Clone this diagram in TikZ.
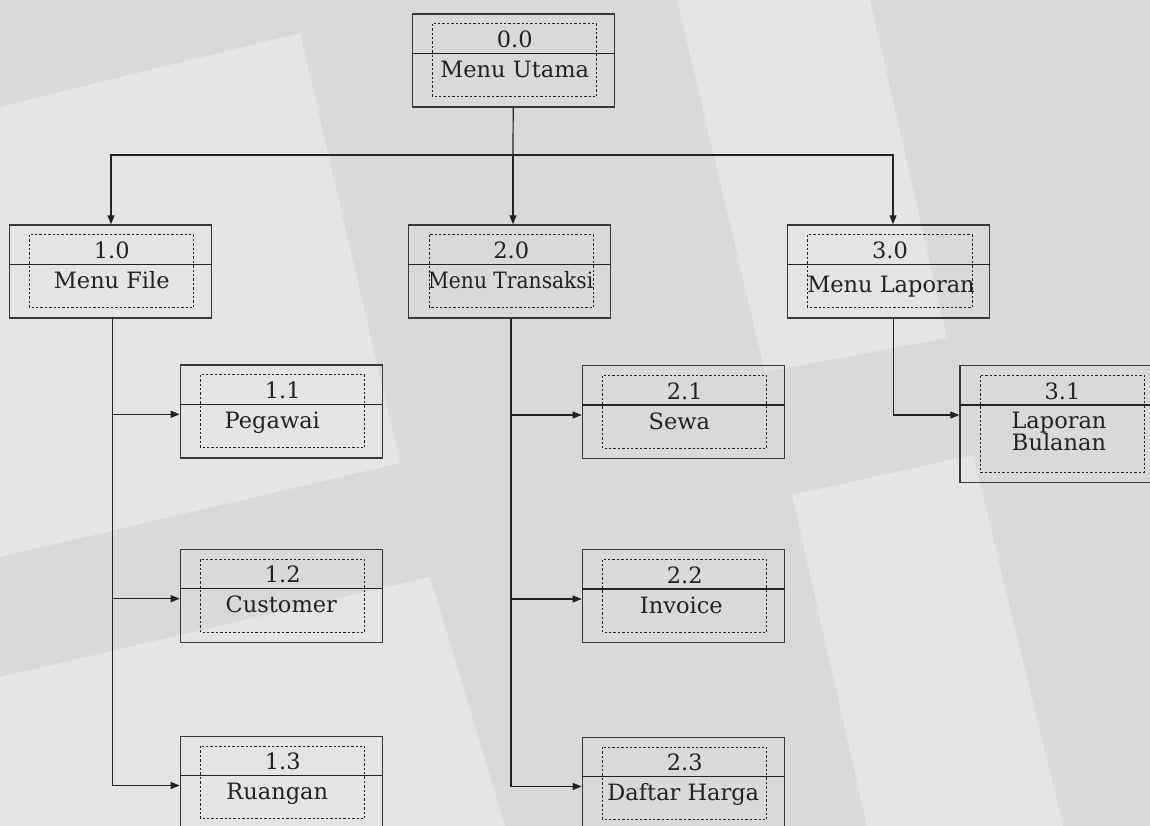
\documentclass[tikz,border=0pt]{standalone}
\usepackage{fontspec}
\setmainfont{DejaVu Serif}
\usetikzlibrary{arrows.meta,calc}
\definecolor{bgdark}{HTML}{D9D9D9}
\definecolor{bglight}{HTML}{E4E4E4}
\definecolor{ink}{HTML}{222222}
\definecolor{boxink}{HTML}{383838}
\tikzset{
  outerbox/.style={draw=boxink, line width=1.3pt, minimum width=202pt, inner sep=0pt, rectangle},
  boxline/.style={draw=ink, line width=1.2pt},
  dotbox/.style={draw=ink, line width=1pt, dash pattern=on 2.4pt off 2pt},
  txt/.style={font=\fontsize{22.5}{23}\selectfont, text=ink, inner sep=0pt, anchor=base},
  conn/.style={draw=ink, line width=1.2pt},
  arr/.style={conn, -{Triangle[length=9pt,width=7pt]}}
}
% #1 name, #2 cx, #3 top, #4 height, #5 number, #6 label, #7 label xshift, #8 label baseline offset
\newcommand{\hipo}[8]{%
  \node[outerbox, minimum height=#4pt, anchor=north] (#1) at (#2,#3) {};
  \draw[boxline] ([yshift=-40pt]#1.north west) -- ([yshift=-40pt]#1.north east);
  \draw[dotbox] ([xshift=21pt,yshift=-10.5pt]#1.north west) rectangle ([xshift=-18pt,yshift=11pt]#1.south east);
  \node[txt] (#1num) at ([xshift=1.5pt,yshift=-34pt]#1.north) {#5};
  \node[txt] (#1lab) at ([xshift=#7pt,yshift=-#8pt]#1.north) {#6};
}
\begin{document}
\begin{tikzpicture}[x=1pt,y=-1pt]
\useasboundingbox (0,0) rectangle (1150,826);
% background
\fill[bgdark] (0,0) rectangle (1150,826);
\fill[bglight] (0,107) -- (300,33) -- (400,463) -- (0,557) -- cycle;
\fill[bglight] (0,677) -- (430,577) -- (505,826) -- (0,826) -- cycle;
\fill[bglight] (677,0) -- (870,0) -- (947,338) -- (765,372) -- cycle;
\fill[bglight] (792,495) -- (973,455) -- (1063,826) -- (867,826) -- cycle;
% boxes
\hipo{n00}{513.2}{13.3}{93}{0.0}{Menu Utama}{1.5}{64}
\hipo{n10}{110.3}{224.3}{93}{1.0}{Menu File}{1.5}{64}
\hipo{n20}{509.8}{224.3}{93}{2.0}{\scalebox{0.9}[1]{Menu Transaksi}}{1}{64}
\hipo{n30}{888.5}{224.3}{93}{3.0}{Menu Laporan}{2.5}{68}
\hipo{n11}{281.3}{364.3}{93}{1.1}{Pegawai}{-9}{64}
\hipo{n12}{281.3}{548.7}{93}{1.2}{Customer}{0}{64}
\hipo{n13}{281.3}{735.5}{93}{1.3}{Ruangan}{-4}{64}
\hipo{n21}{683.3}{365}{93}{2.1}{Sewa}{-4}{64}
\hipo{n22}{683.3}{549}{93}{2.2}{Invoice}{-2}{64}
\hipo{n23}{683.3}{736.5}{93}{2.3}{Daftar Harga}{0}{64}
\hipo{n31}{1061}{365}{117}{3.1}{Laporan}{-2}{63}
\node[txt] (n31lab2) at ([xshift=-2pt,yshift=-85pt]n31.north) {Bulanan};
% connectors
\coordinate (hub) at (513,155);
\draw[conn] (n00.south) -- (hub);
\draw[arr] (hub) -| ([xshift=0.7pt]n10.north);
\draw[arr] (hub) -- (hub |- n20.north);
\draw[arr] (hub) -| ([xshift=4.5pt]n30.north);
\foreach \c in {n11,n12,n13,n21,n22,n23,n31}{
  \coordinate (\c in) at ([yshift=-50pt]\c.north west);
}
\draw[conn] ([xshift=2.4pt]n10.south) -- ([xshift=2.4pt]n10.south |- n13in);
\draw[arr] ([xshift=2.4pt]n10.south |- n11in) -- (n11in);
\draw[arr] ([xshift=2.4pt]n10.south |- n12in) -- (n12in);
\draw[arr] ([xshift=2.4pt]n10.south |- n13in) -- (n13in);
\draw[conn] ([xshift=1.2pt]n20.south) -- ([xshift=1.2pt]n20.south |- n23in);
\draw[arr] ([xshift=1.2pt]n20.south |- n21in) -- (n21in);
\draw[arr] ([xshift=1.2pt]n20.south |- n22in) -- (n22in);
\draw[arr] ([xshift=1.2pt]n20.south |- n23in) -- (n23in);
\draw[arr] ([xshift=4.8pt]n30.south) |- (n31in);
\end{tikzpicture}
\end{document}
